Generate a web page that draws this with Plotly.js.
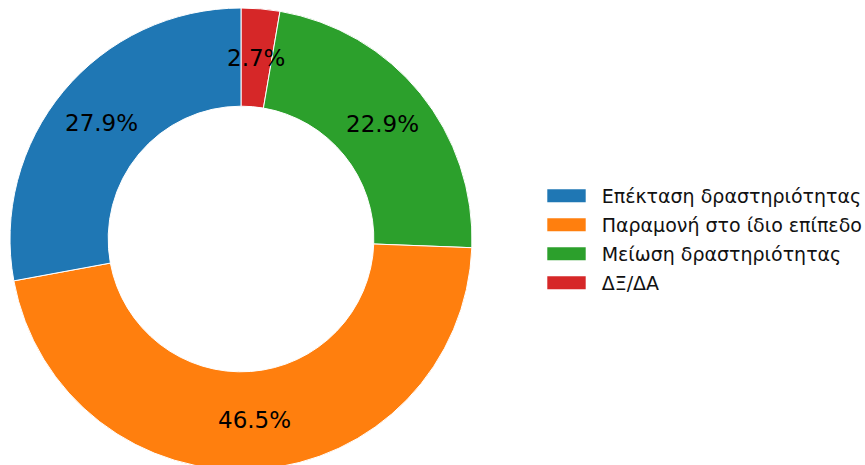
<!DOCTYPE html>
<html><head><meta charset="utf-8">
<script src="https://cdn.plot.ly/plotly-3.0.1.min.js"></script>
<style>html,body{margin:0;padding:0;overflow:hidden;background:#fff}</style>
</head><body>
<div id="chart" style="width:865px;height:470px"></div>
<script>
const labels = ["Επέκταση δραστηριότητας", "Παραμονή στο ίδιο επίπεδο", "Μείωση δραστηριότητας", "ΔΞ/ΔΑ"];
const values = [27.9, 46.5, 22.9, 2.7];
const colors = ["#1f77b4", "#ff7f0e", "#2ca02c", "#d62728"];

const W = 865, H = 470, T = 8;
const cxPx = 241, R = 231, hole = 0.575;
const plotH = H - T;
const cyPx = T + plotH / 2;

const total = values.reduce((a, b) => a + b, 0);
let start = 90;
const annotations = [];
const rMid = R * (1 + hole) / 2;
values.forEach((v, i) => {
  const span = v / total * 360;
  const mid = (start + span / 2) * Math.PI / 180;
  start += span;
  const px = cxPx + rMid * Math.cos(mid);
  const py = cyPx - rMid * Math.sin(mid);
  annotations.push({
    x: px / W, y: (H - py) / plotH, xref: "paper", yref: "paper",
    text: (v / total * 100).toFixed(1) + "%", showarrow: false,
    xanchor: "center", yanchor: "middle",
    font: {family: "DejaVu Sans", size: 23, color: "#000"}
  });
});

// slices drawn clockwise in reversed order == counterclockwise in original order
const rev = a => a.slice().reverse();
const data = [{
  type: "pie", labels: rev(labels), values: rev(values), hole: hole,
  sort: false, direction: "clockwise", rotation: 0,
  marker: {colors: rev(colors), line: {color: "#fff", width: 1}},
  textposition: "none", hoverinfo: "label+percent",
  domain: {x: [(cxPx - R) / W, (cxPx + R) / W], y: [0, 1]}
}];
const layout = {
  width: W, height: H,
  margin: {l: 0, r: 0, t: T, b: 0, pad: 0},
  paper_bgcolor: "#fff", plot_bgcolor: "#fff",
  showlegend: true,
  legend: {x: 0.628, xanchor: "left", y: 0.5, yanchor: "middle", traceorder: "reversed",
    font: {family: "DejaVu Sans", size: 19, color: "#111"}, bgcolor: "rgba(0,0,0,0)"},
  annotations: annotations
};

// legend styling: wide colour patches and row spacing
const legRow0 = 195.7, legGap = 29, patchL = 547.3, patchR = 585.7, patchH = 13, textX = 601.7;
const gd = document.getElementById("chart");
const tre = /translate\(\s*([-\d.e]+)[ ,]+([-\d.e]+)\s*\)/;
Plotly.newPlot(gd, data, layout, {displayModeBar: false, staticPlot: true}).then(() => {
  const legend = gd.querySelector(".legend");
  const all = Array.from(legend.querySelectorAll(".traces"));
  // order legend rows by label order in `labels`
  const items = labels.map(lab => all.find(g => g.querySelector("text.legendtext").textContent === lab)).filter(Boolean);
  items.forEach((g, i) => {
    const pt = g.querySelector(".legendpoints path");
    const r = pt.getBoundingClientRect();
    const cy = r.top + r.height / 2;
    const dy = (legRow0 + i * legGap) - cy;
    const m = tre.exec(g.getAttribute("transform") || "translate(0,0)");
    const tx = m ? parseFloat(m[1]) : 0, ty = m ? parseFloat(m[2]) : 0;
    g.setAttribute("transform", "translate(" + tx + "," + (ty + dy) + ")");
  });
  const firstText = items[0].querySelector("text.legendtext");
  const tr = firstText.getBoundingClientRect();
  const dx = textX - tr.left;
  const lm = tre.exec(legend.getAttribute("transform"));
  legend.setAttribute("transform", "translate(" + (parseFloat(lm[1]) + dx) + "," + parseFloat(lm[2]) + ")");
  items.forEach((g) => {
    const pt = g.querySelector(".legendpoints path");
    const bb = pt.getBBox();
    const r = pt.getBoundingClientRect();
    const lcx = bb.x + bb.width / 2 + ((patchL + patchR) / 2 - (r.left + r.width / 2));
    const lcy = bb.y + bb.height / 2;
    const hw = (patchR - patchL) / 2, hh = patchH / 2;
    pt.setAttribute("d", "M" + (lcx + hw) + "," + (lcy + hh) + "H" + (lcx - hw) + "V" + (lcy - hh) + "H" + (lcx + hw) + "Z");
    pt.style.strokeWidth = "0px";
  });
  legend.querySelectorAll("[clip-path]").forEach(e => e.removeAttribute("clip-path"));
});
</script>
</body></html>
